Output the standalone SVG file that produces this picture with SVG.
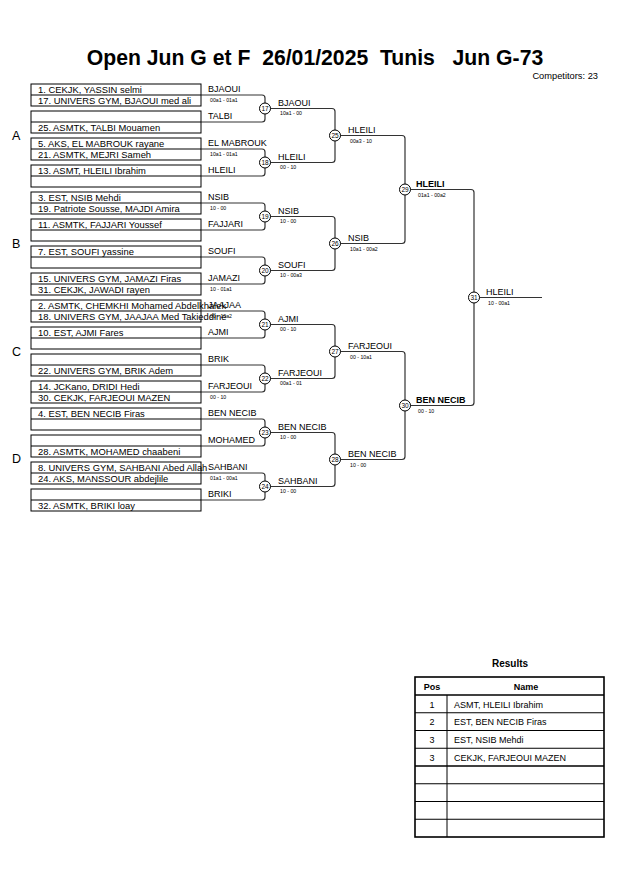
<svg xmlns="http://www.w3.org/2000/svg" width="630" height="891" viewBox="0 0 630 891">
<style>
text{font-family:"Liberation Sans",Arial,sans-serif;fill:#000}
.title{font-size:21.2px;font-weight:bold}
.comp{font-size:9.3px}
.grp{font-size:12.5px}
.bx{fill:#fff;stroke:#000;stroke-width:1}
.dv{stroke:#000;stroke-width:1}
.nm{font-size:9.4px}
.lb{font-size:9px}
.lbb{font-size:9px;font-weight:bold}
.sc{font-size:5.2px}
.con{fill:none;stroke:#333;stroke-width:1.2}
.mc{fill:#fff;stroke:#000;stroke-width:1}
.mn{font-size:6.5px;text-anchor:middle}
.tb{fill:none;stroke:#000;stroke-width:1}
.tbo{fill:none;stroke:#000;stroke-width:1.6}
.th{font-size:9px;font-weight:bold;text-anchor:middle}
.td{font-size:9px}
.tdc{font-size:9px;text-anchor:middle}
</style>
<rect width="630" height="891" fill="#fff"/>
<text class="title" x="315" y="65" text-anchor="middle" xml:space="preserve" style="white-space:pre">Open Jun G et F  26/01/2025  Tunis   Jun G-73</text>
<text class="comp" x="598" y="79" text-anchor="end">Competitors: 23</text>
<g id="groups">
<text class="grp" x="12" y="140">A</text>
<text class="grp" x="12" y="248">B</text>
<text class="grp" x="12" y="356">C</text>
<text class="grp" x="12" y="463">D</text>
</g>
<g id="connectors">
<path class="con" d="M201,95 H262 Q265,95 265,98 V119 Q265,122 262,122 H201"/>
<path class="con" d="M201,149 H262 Q265,149 265,152 V173 Q265,176 262,176 H201"/>
<path class="con" d="M201,203 H262 Q265,203 265,206 V227 Q265,230 262,230 H201"/>
<path class="con" d="M201,257 H262 Q265,257 265,260 V281 Q265,284 262,284 H201"/>
<path class="con" d="M201,311 H262 Q265,311 265,314 V335 Q265,338 262,338 H201"/>
<path class="con" d="M201,365 H262 Q265,365 265,368 V389 Q265,392 262,392 H201"/>
<path class="con" d="M201,419 H262 Q265,419 265,422 V443 Q265,446 262,446 H201"/>
<path class="con" d="M201,473 H262 Q265,473 265,476 V497 Q265,500 262,500 H201"/>
<path class="con" d="M265,108.5 H332 Q335,108.5 335,111.5 V159.5 Q335,162.5 332,162.5 H265"/>
<path class="con" d="M265,216.5 H332 Q335,216.5 335,219.5 V267.5 Q335,270.5 332,270.5 H265"/>
<path class="con" d="M265,324.5 H332 Q335,324.5 335,327.5 V375.5 Q335,378.5 332,378.5 H265"/>
<path class="con" d="M265,432.5 H332 Q335,432.5 335,435.5 V483.5 Q335,486.5 332,486.5 H265"/>
<path class="con" d="M335,135.5 H402 Q405,135.5 405,138.5 V240.5 Q405,243.5 402,243.5 H335"/>
<path class="con" d="M335,351.5 H402 Q405,351.5 405,354.5 V456.5 Q405,459.5 402,459.5 H335"/>
<path class="con" d="M405,189.5 H471 Q474,189.5 474,192.5 V402.5 Q474,405.5 471,405.5 H405"/>
<path class="con" d="M474,297.5 H542"/>
</g>
<g id="entries">
<g id="e0"><rect class="bx" x="31" y="84" width="170" height="22"/><line class="dv" x1="31" y1="95" x2="201" y2="95"/><text class="nm" x="38" y="93">1. CEKJK, YASSIN selmi</text><text class="nm" x="38" y="103.5">17. UNIVERS GYM, BJAOUI med ali</text></g>
<g id="e1"><rect class="bx" x="31" y="111" width="170" height="22"/><line class="dv" x1="31" y1="122" x2="201" y2="122"/><text class="nm" x="38" y="130.5">25. ASMTK, TALBI Mouamen</text></g>
<g id="e2"><rect class="bx" x="31" y="138" width="170" height="22"/><line class="dv" x1="31" y1="149" x2="201" y2="149"/><text class="nm" x="38" y="147">5. AKS, EL MABROUK rayane</text><text class="nm" x="38" y="157.5">21. ASMTK, MEJRI Sameh</text></g>
<g id="e3"><rect class="bx" x="31" y="165" width="170" height="22"/><line class="dv" x1="31" y1="176" x2="201" y2="176"/><text class="nm" x="38" y="174">13. ASMT, HLEILI Ibrahim</text></g>
<g id="e4"><rect class="bx" x="31" y="192" width="170" height="22"/><line class="dv" x1="31" y1="203" x2="201" y2="203"/><text class="nm" x="38" y="201">3. EST, NSIB Mehdi</text><text class="nm" x="38" y="211.5">19. Patriote Sousse, MAJDI Amira</text></g>
<g id="e5"><rect class="bx" x="31" y="219" width="170" height="22"/><line class="dv" x1="31" y1="230" x2="201" y2="230"/><text class="nm" x="38" y="228">11. ASMTK, FAJJARI Youssef</text></g>
<g id="e6"><rect class="bx" x="31" y="246" width="170" height="22"/><line class="dv" x1="31" y1="257" x2="201" y2="257"/><text class="nm" x="38" y="255">7. EST, SOUFI yassine</text></g>
<g id="e7"><rect class="bx" x="31" y="273" width="170" height="22"/><line class="dv" x1="31" y1="284" x2="201" y2="284"/><text class="nm" x="38" y="282">15. UNIVERS GYM, JAMAZI Firas</text><text class="nm" x="38" y="292.5">31. CEKJK, JAWADI rayen</text></g>
<g id="e8"><rect class="bx" x="31" y="300" width="170" height="22"/><line class="dv" x1="31" y1="311" x2="201" y2="311"/><text class="nm" x="38" y="309">2. ASMTK, CHEMKHI Mohamed Abdelkhalek</text><text class="nm" x="38" y="319.5">18. UNIVERS GYM, JAAJAA Med Takieddine</text></g>
<g id="e9"><rect class="bx" x="31" y="327" width="170" height="22"/><line class="dv" x1="31" y1="338" x2="201" y2="338"/><text class="nm" x="38" y="336">10. EST, AJMI Fares</text></g>
<g id="e10"><rect class="bx" x="31" y="354" width="170" height="22"/><line class="dv" x1="31" y1="365" x2="201" y2="365"/><text class="nm" x="38" y="373.5">22. UNIVERS GYM, BRIK Adem</text></g>
<g id="e11"><rect class="bx" x="31" y="381" width="170" height="22"/><line class="dv" x1="31" y1="392" x2="201" y2="392"/><text class="nm" x="38" y="390">14. JCKano, DRIDI Hedi</text><text class="nm" x="38" y="400.5">30. CEKJK, FARJEOUI MAZEN</text></g>
<g id="e12"><rect class="bx" x="31" y="408" width="170" height="22"/><line class="dv" x1="31" y1="419" x2="201" y2="419"/><text class="nm" x="38" y="417">4. EST, BEN NECIB Firas</text></g>
<g id="e13"><rect class="bx" x="31" y="435" width="170" height="22"/><line class="dv" x1="31" y1="446" x2="201" y2="446"/><text class="nm" x="38" y="454.5">28. ASMTK, MOHAMED chaabeni</text></g>
<g id="e14"><rect class="bx" x="31" y="462" width="170" height="22"/><line class="dv" x1="31" y1="473" x2="201" y2="473"/><text class="nm" x="38" y="471">8. UNIVERS GYM, SAHBANI Abed Allah</text><text class="nm" x="38" y="481.5">24. AKS, MANSSOUR abdejlile</text></g>
<g id="e15"><rect class="bx" x="31" y="489" width="170" height="22"/><line class="dv" x1="31" y1="500" x2="201" y2="500"/><text class="nm" x="38" y="508.5">32. ASMTK, BRIKI loay</text></g>
</g>
<g id="labels">
<text class="lb" x="208" y="92">BJAOUI</text><text class="sc" x="210" y="102">00a1 - 01a1</text>
<text class="lb" x="208" y="119">TALBI</text>
<text class="lb" x="208" y="146">EL MABROUK</text><text class="sc" x="210" y="156">10a1 - 01a1</text>
<text class="lb" x="208" y="173">HLEILI</text>
<text class="lb" x="208" y="200">NSIB</text><text class="sc" x="210" y="210">10 - 00</text>
<text class="lb" x="208" y="227">FAJJARI</text>
<text class="lb" x="208" y="254">SOUFI</text>
<text class="lb" x="208" y="281">JAMAZI</text><text class="sc" x="210" y="291">10 - 01a1</text>
<text class="lb" x="208" y="308">JAAJAA</text><text class="sc" x="210" y="318">00 - 10a2</text>
<text class="lb" x="208" y="335">AJMI</text>
<text class="lb" x="208" y="362">BRIK</text>
<text class="lb" x="208" y="389">FARJEOUI</text><text class="sc" x="210" y="399">00 - 10</text>
<text class="lb" x="208" y="416">BEN NECIB</text>
<text class="lb" x="208" y="443">MOHAMED</text>
<text class="lb" x="208" y="470">SAHBANI</text><text class="sc" x="210" y="480">01a1 - 00a1</text>
<text class="lb" x="208" y="497">BRIKI</text>
<text class="lb" x="278" y="105.5">BJAOUI</text><text class="sc" x="280" y="115">10a1 - 00</text>
<text class="lb" x="278" y="159.5">HLEILI</text><text class="sc" x="280" y="169">00 - 10</text>
<text class="lb" x="278" y="213.5">NSIB</text><text class="sc" x="280" y="223">10 - 00</text>
<text class="lb" x="278" y="267.5">SOUFI</text><text class="sc" x="280" y="277">10 - 00a3</text>
<text class="lb" x="278" y="321.5">AJMI</text><text class="sc" x="280" y="331">00 - 10</text>
<text class="lb" x="278" y="375.5">FARJEOUI</text><text class="sc" x="280" y="385">00a1 - 01</text>
<text class="lb" x="278" y="429.5">BEN NECIB</text><text class="sc" x="280" y="439">10 - 00</text>
<text class="lb" x="278" y="483.5">SAHBANI</text><text class="sc" x="280" y="493">10 - 00</text>
<text class="lb" x="348" y="132.5">HLEILI</text><text class="sc" x="350" y="142.5">00a3 - 10</text>
<text class="lb" x="348" y="240.5">NSIB</text><text class="sc" x="350" y="250.5">10a1 - 00a2</text>
<text class="lb" x="348" y="348.5">FARJEOUI</text><text class="sc" x="350" y="358.5">00 - 10a1</text>
<text class="lb" x="348" y="456.5">BEN NECIB</text><text class="sc" x="350" y="466.5">10 - 00</text>
<text class="lbb" x="416" y="186.5">HLEILI</text><text class="sc" x="418" y="196.5">01a1 - 00a2</text>
<text class="lbb" x="416" y="402.5">BEN NECIB</text><text class="sc" x="418" y="412.5">00 - 10</text>
<text class="lb" x="486" y="294.5">HLEILI</text><text class="sc" x="488" y="304.5">10 - 00a1</text>
</g>
<g id="matches">
<g id="m17"><circle class="mc" cx="265" cy="108.5" r="5.5"/><text class="mn" x="265" y="110.8">17</text></g>
<g id="m18"><circle class="mc" cx="265" cy="162.5" r="5.5"/><text class="mn" x="265" y="164.8">18</text></g>
<g id="m19"><circle class="mc" cx="265" cy="216.5" r="5.5"/><text class="mn" x="265" y="218.8">19</text></g>
<g id="m20"><circle class="mc" cx="265" cy="270.5" r="5.5"/><text class="mn" x="265" y="272.8">20</text></g>
<g id="m21"><circle class="mc" cx="265" cy="324.5" r="5.5"/><text class="mn" x="265" y="326.8">21</text></g>
<g id="m22"><circle class="mc" cx="265" cy="378.5" r="5.5"/><text class="mn" x="265" y="380.8">22</text></g>
<g id="m23"><circle class="mc" cx="265" cy="432.5" r="5.5"/><text class="mn" x="265" y="434.8">23</text></g>
<g id="m24"><circle class="mc" cx="265" cy="486.5" r="5.5"/><text class="mn" x="265" y="488.8">24</text></g>
<g id="m25"><circle class="mc" cx="335" cy="135.5" r="5.5"/><text class="mn" x="335" y="137.8">25</text></g>
<g id="m26"><circle class="mc" cx="335" cy="243.5" r="5.5"/><text class="mn" x="335" y="245.8">26</text></g>
<g id="m27"><circle class="mc" cx="335" cy="351.5" r="5.5"/><text class="mn" x="335" y="353.8">27</text></g>
<g id="m28"><circle class="mc" cx="335" cy="459.5" r="5.5"/><text class="mn" x="335" y="461.8">28</text></g>
<g id="m29"><circle class="mc" cx="405" cy="189.5" r="5.5"/><text class="mn" x="405" y="191.8">29</text></g>
<g id="m30"><circle class="mc" cx="405" cy="405.5" r="5.5"/><text class="mn" x="405" y="407.8">30</text></g>
<g id="m31"><circle class="mc" cx="474" cy="297.5" r="5.5"/><text class="mn" x="474" y="299.8">31</text></g>
</g>
<g id="results">
<text x="510" y="667" text-anchor="middle" style="font-size:10px;font-weight:bold">Results</text>
<rect class="tbo" x="415" y="677" width="189" height="160"/>
<line class="tb" x1="415" y1="695" x2="604" y2="695" style="stroke-width:1.4"/>
<line class="tb" x1="415" y1="712.75" x2="604" y2="712.75"/>
<line class="tb" x1="415" y1="730.5" x2="604" y2="730.5"/>
<line class="tb" x1="415" y1="748.25" x2="604" y2="748.25"/>
<line class="tb" x1="415" y1="766" x2="604" y2="766" style="stroke-width:1.4"/>
<line class="tb" x1="415" y1="783.75" x2="604" y2="783.75"/>
<line class="tb" x1="415" y1="801.5" x2="604" y2="801.5"/>
<line class="tb" x1="415" y1="819.25" x2="604" y2="819.25"/>
<line class="tb" x1="447" y1="695" x2="447" y2="837"/>
<text class="th" x="432" y="690">Pos</text>
<text class="th" x="526" y="690">Name</text>
<text class="tdc" x="432" y="707.5">1</text><text class="td" x="454" y="707.5">ASMT, HLEILI Ibrahim</text>
<text class="tdc" x="432" y="725.2">2</text><text class="td" x="454" y="725.2">EST, BEN NECIB Firas</text>
<text class="tdc" x="432" y="743">3</text><text class="td" x="454" y="743">EST, NSIB Mehdi</text>
<text class="tdc" x="432" y="760.7">3</text><text class="td" x="454" y="760.7">CEKJK, FARJEOUI MAZEN</text>
</g>
</svg>
